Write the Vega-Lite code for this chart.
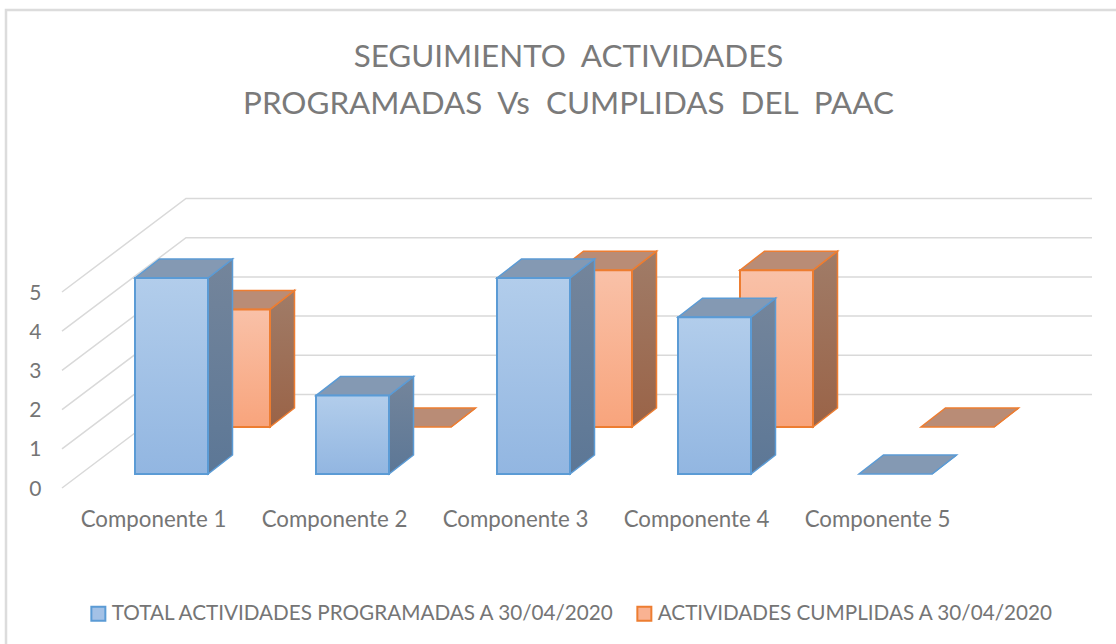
{
"$schema":"https://vega.github.io/schema/vega-lite/v6.json",
"width":905,"height":196,
"autosize":"none",
"padding":{"left":63,"top":291,"right":148,"bottom":157},
"background":"white",
"title":{"text":["SEGUIMIENTO \u00a0ACTIVIDADES","PROGRAMADAS \u00a0Vs \u00a0CUMPLIDAS \u00a0DEL \u00a0PAAC"],"font":"Lato","fontSize":31.4,"fontWeight":"normal","color":"#7a7a7a","lineHeight":47,"anchor":"middle","dx":53,"offset":-115},
"config":{"view":{"stroke":null},"font":"Lato"},
"datasets":{
"bars":[
{"componente":"Componente 1","serie":"TOTAL ACTIVIDADES PROGRAMADAS A 30/04/2020","valor":5},
{"componente":"Componente 2","serie":"TOTAL ACTIVIDADES PROGRAMADAS A 30/04/2020","valor":2},
{"componente":"Componente 3","serie":"TOTAL ACTIVIDADES PROGRAMADAS A 30/04/2020","valor":5},
{"componente":"Componente 4","serie":"TOTAL ACTIVIDADES PROGRAMADAS A 30/04/2020","valor":4},
{"componente":"Componente 5","serie":"TOTAL ACTIVIDADES PROGRAMADAS A 30/04/2020","valor":0},
{"componente":"Componente 1","serie":"ACTIVIDADES CUMPLIDAS A 30/04/2020","valor":3},
{"componente":"Componente 2","serie":"ACTIVIDADES CUMPLIDAS A 30/04/2020","valor":0},
{"componente":"Componente 3","serie":"ACTIVIDADES CUMPLIDAS A 30/04/2020","valor":4},
{"componente":"Componente 4","serie":"ACTIVIDADES CUMPLIDAS A 30/04/2020","valor":4},
{"componente":"Componente 5","serie":"ACTIVIDADES CUMPLIDAS A 30/04/2020","valor":0}
],
"grid":[{"tick":0},{"tick":1},{"tick":2},{"tick":3},{"tick":4},{"tick":5}]
},
"data":{"name":"bars"},
"encoding":{
"x":{"field":"componente","type":"nominal","scale":{"paddingInner":0,"paddingOuter":0},"axis":{"title":null,"labelAngle":0,"domain":false,"ticks":false,"labelPadding":21,"labelFont":"Lato","labelFontSize":22.3,"labelColor":"#757575"}},
"y":{"field":"valor","type":"quantitative","stack":null,"scale":{"domain":[0,5],"nice":false},"axis":{"title":null,"domain":false,"ticks":false,"grid":false,"tickCount":6,"labelPadding":22,"labelOffset":2,"labelFont":"Lato","labelFontSize":21,"labelColor":"#757575"}}
},
"layer":[
{"mark":{"type":"bar","width":73,"opacity":0,"strokeWidth":2},
 "encoding":{
  "fill":{"field":"serie","type":"nominal","scale":{"domain":["TOTAL ACTIVIDADES PROGRAMADAS A 30/04/2020","ACTIVIDADES CUMPLIDAS A 30/04/2020"],"range":["#a3c1e6","#f9b292"]},
   "legend":{"title":null,"orient":"none","legendX":25,"legendY":312,"direction":"horizontal","symbolType":"square","symbolSize":196,"symbolStrokeWidth":2,"labelFont":"Lato","labelFontSize":20.7,"labelColor":"#757575","labelLimit":600,"columnPadding":17,"labelOffset":3,"symbolOpacity":1}},
  "stroke":{"field":"serie","type":"nominal","scale":{"domain":["TOTAL ACTIVIDADES PROGRAMADAS A 30/04/2020","ACTIVIDADES CUMPLIDAS A 30/04/2020"],"range":["#5b9bd5","#ed7d31"]},
   "legend":{"title":null,"orient":"none","legendX":25,"legendY":312,"direction":"horizontal","symbolType":"square","symbolSize":196,"symbolStrokeWidth":2,"labelFont":"Lato","labelFontSize":20.7,"labelColor":"#757575","labelLimit":600,"columnPadding":17,"labelOffset":3,"symbolOpacity":1}}
 }},
{"data":{"values":[{"tick":5}]},
 "mark":{"type":"point","filled":false,"opacity":1,"size":4,"stroke":"#dcdcdc","strokeWidth":2.5,"fill":null,"shape":"M-147.5,353 L-147.5,-281 L1000,-281"},
 "encoding":{"x":{"datum":"Componente 1"},"y":{"field":"tick","type":"quantitative"}}},
{"data":{"name":"grid"},
 "mark":{"type":"point","filled":false,"opacity":1,"size":4,"stroke":"#d9d9d9","strokeWidth":1.5,"fill":null,"shape":"M-91.5,1 L32.5,-92.5 L938.5,-92.5"},
 "encoding":{"x":{"datum":"Componente 1"},"y":{"field":"tick","type":"quantitative"}}},

{"transform":[{"filter":"datum.serie === 'ACTIVIDADES CUMPLIDAS A 30/04/2020'"}],
 "mark":{"type":"point","filled":true,"opacity":1,"size":4,"xOffset":43.5,"yOffset":-60,"stroke":"#ed7d31","strokeWidth":1.5,"fill":{"x1":0,"y1":0,"x2":0,"y2":1,"gradient":"linear","stops":[{"offset":0,"color":"#a07c68"},{"offset":1,"color":"#9a6347"}]}},
 "encoding":{"shape":{"field":"valor","type":"ordinal","legend":null,"scale":{"domain":[0,1,2,3,4,5],"range":["M73,0 L97.5,-19 Z","M73,0 L97.5,-19 L97.5,20 L73,39 Z","M73,0 L97.5,-19 L97.5,59.4 L73,78.4 Z","M73,0 L97.5,-19 L97.5,98.6 L73,117.6 Z","M73,0 L97.5,-19 L97.5,137.8 L73,156.8 Z","M73,0 L97.5,-19 L97.5,177 L73,196 Z"]}}}},
{"transform":[{"filter":"datum.serie === 'ACTIVIDADES CUMPLIDAS A 30/04/2020'"}],
 "mark":{"type":"point","filled":true,"opacity":1,"size":4,"xOffset":43.5,"yOffset":-60,"fill":"#b98c76","stroke":"#ed7d31","strokeWidth":1.5,"shape":"M0,0 L73,0 L97.5,-19 L24.5,-19 Z"}},
{"transform":[{"filter":"datum.serie === 'ACTIVIDADES CUMPLIDAS A 30/04/2020'"},{"filter":"datum.valor > 0"}],
 "mark":{"type":"bar","width":73,"xOffset":80,"yOffset":-60,"y2Offset":-60,"strokeWidth":2,"stroke":"#ed7d31","fill":{"x1":0,"y1":0,"x2":0,"y2":1,"gradient":"linear","stops":[{"offset":0,"color":"#f9c1a8"},{"offset":1,"color":"#f8a47c"}]}},
 "encoding":{"y2":{"datum":0}}},

{"transform":[{"filter":"datum.serie === 'TOTAL ACTIVIDADES PROGRAMADAS A 30/04/2020'"}],
 "mark":{"type":"point","filled":true,"opacity":1,"size":4,"xOffset":-18.5,"yOffset":-13,"stroke":"#5b9bd5","strokeWidth":1.5,"fill":{"x1":0,"y1":0,"x2":0,"y2":1,"gradient":"linear","stops":[{"offset":0,"color":"#74859b"},{"offset":1,"color":"#5c7796"}]}},
 "encoding":{"shape":{"field":"valor","type":"ordinal","legend":null,"scale":{"domain":[0,1,2,3,4,5],"range":["M73,0 L97.5,-19 Z","M73,0 L97.5,-19 L97.5,20 L73,39 Z","M73,0 L97.5,-19 L97.5,59.4 L73,78.4 Z","M73,0 L97.5,-19 L97.5,98.6 L73,117.6 Z","M73,0 L97.5,-19 L97.5,137.8 L73,156.8 Z","M73,0 L97.5,-19 L97.5,177 L73,196 Z"]}}}},
{"transform":[{"filter":"datum.serie === 'TOTAL ACTIVIDADES PROGRAMADAS A 30/04/2020'"}],
 "mark":{"type":"point","filled":true,"opacity":1,"size":4,"xOffset":-18.5,"yOffset":-13,"fill":"#8499b3","stroke":"#5b9bd5","strokeWidth":1.5,"shape":"M0,0 L73,0 L97.5,-19 L24.5,-19 Z"}},
{"transform":[{"filter":"datum.serie === 'TOTAL ACTIVIDADES PROGRAMADAS A 30/04/2020'"},{"filter":"datum.valor > 0"}],
 "mark":{"type":"bar","width":73,"xOffset":18,"yOffset":-13,"y2Offset":-13,"strokeWidth":2,"stroke":"#5b9bd5","fill":{"x1":0,"y1":0,"x2":0,"y2":1,"gradient":"linear","stops":[{"offset":0,"color":"#b2cdeb"},{"offset":1,"color":"#92b6e1"}]}},
 "encoding":{"y2":{"datum":0}}}
]
}
